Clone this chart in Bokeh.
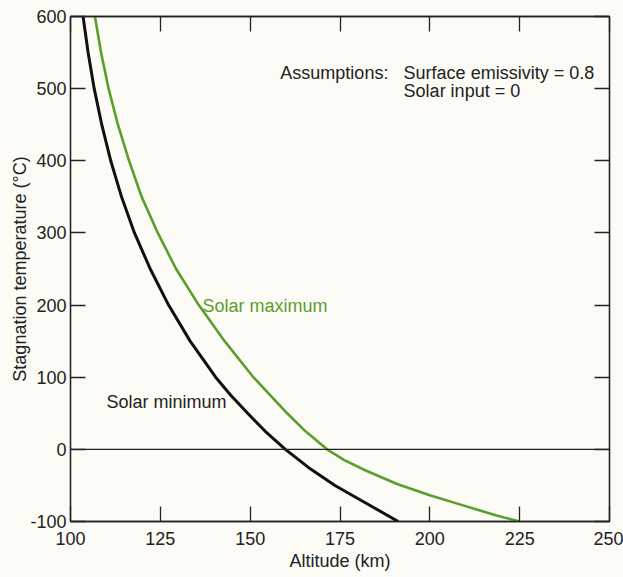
from bokeh.plotting import figure
from bokeh.models import LinearAxis, FixedTicker, Span, Label
from bokeh.embed import file_html
from bokeh.resources import INLINE

# ---- data ----
min_temp_c = [600, 550, 500, 450, 400, 350, 300, 250, 200, 150, 100, 75, 50, 25, 0, -25, -50, -75, -100]
min_alt_km = [103.5, 104.9, 106.6, 108.7, 111.2, 114.2, 117.8, 122.2, 127.3, 133.3, 140.4,
              144.6, 149.3, 154.2, 159.8, 166.2, 173.6, 182.4, 191.2]

max_temp_c = [600, 550, 500, 450, 400, 350, 300, 250, 200, 150, 100, 50, 25, 0, -15, -29, -48, -64, -78, -92, -100]
max_alt_km = [106.8, 108.5, 110.6, 113.2, 116.3, 119.8, 124.3, 129.4, 135.7, 142.9, 150.9, 160.3,
              165.4, 171.4, 176.2, 182.0, 190.9, 200.2, 209.5, 218.8, 225.0]

x_ticks = [100, 125, 150, 175, 200, 225, 250]
x_tick_labels = ["100", "125", "150", "175", "200", "225", "250"]
y_ticks = [-100, 0, 100, 200, 300, 400, 500, 600]
y_tick_labels = ["-100", "0", "100", "200", "300", "400", "500", "600"]

FONT = "Liberation Sans"
BG = "#fcfbf6"
INK = "#222222"
GREEN = "#5a9e2d"

p = figure(width=623, height=577, x_range=(100, 250), y_range=(-100, 600),
           output_backend="svg", toolbar_location=None,
           min_border_left=70, min_border_right=14, min_border_top=16, min_border_bottom=56,
           background_fill_color=BG, border_fill_color=BG, outline_line_color=INK,
           outline_line_width=1.3)
p.xgrid.visible = False
p.ygrid.visible = False

def style_axis(ax, ticks, labels, show_labels):
    ax.ticker = FixedTicker(ticks=ticks)
    ax.major_tick_in = 15
    ax.major_tick_out = 0
    ax.minor_tick_line_color = None
    ax.major_tick_line_color = INK
    ax.major_tick_line_width = 1.3
    ax.axis_line_color = INK
    ax.axis_line_width = 1.3
    ax.major_label_text_font = FONT
    if show_labels:
        ax.major_label_overrides = {t: l for t, l in zip(ticks, labels)}
        ax.major_label_text_color = INK
        ax.major_label_text_font_size = "18px"
    else:
        ax.major_label_text_color = None
        ax.major_label_text_font_size = "0px"
        ax.major_label_standoff = 0

# bottom / left axes
xa = p.xaxis[0]
ya = p.yaxis[0]
style_axis(xa, x_ticks, x_tick_labels, True)
style_axis(ya, y_ticks, y_tick_labels, True)
xa.major_label_standoff = 10
ya.major_label_standoff = 4
xa.axis_label = "Altitude (km)"
ya.axis_label = "Stagnation temperature (°C)"
for ax in (xa, ya):
    ax.axis_label_text_font = FONT
    ax.axis_label_text_font_size = "18px"
    ax.axis_label_text_font_style = "normal"
    ax.axis_label_text_color = INK
xa.axis_label_standoff = 3
ya.axis_label_standoff = -3

# top / right axes (ticks only)
top = LinearAxis()
right = LinearAxis()
style_axis(top, x_ticks, x_tick_labels, False)
style_axis(right, y_ticks, y_tick_labels, False)
p.add_layout(top, "above")
p.add_layout(right, "right")

# zero line
p.add_layout(Span(location=0, dimension="width", line_color=INK, line_width=1.3))

# curves
p.line(min_alt_km, min_temp_c, line_color="#111111", line_width=3, line_join="round")
p.line(max_alt_km, max_temp_c, line_color=GREEN, line_width=2.6, line_join="round")

# annotations
def lab(x, y, text, color=INK):
    p.add_layout(Label(x=x, y=y, text=text, text_font=FONT, text_font_size="18px",
                       text_color=color, text_baseline="middle", text_align="left"))

lab(136.7, 199.4, "Solar maximum", GREEN)
lab(110.0, 66.3, "Solar minimum")
lab(158.4, 522.0, "Assumptions:")
lab(192.7, 522.0, "Surface emissivity = 0.8")
lab(192.7, 497.0, "Solar input = 0")

open("out.html", "w").write(file_html(p, INLINE))
